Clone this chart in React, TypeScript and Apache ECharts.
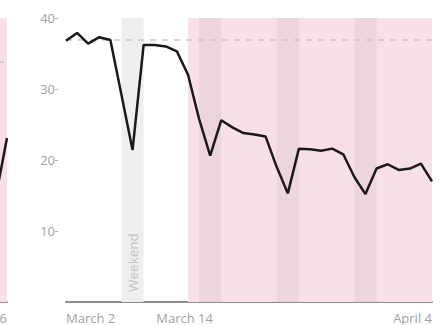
import React, { useEffect, useRef } from 'react';
import * as echarts from 'echarts';

const dates = [
  'Mar 2', 'Mar 3', 'Mar 4', 'Mar 5', 'Mar 6', 'Mar 7', 'Mar 8', 'Mar 9', 'Mar 10', 'Mar 11',
  'Mar 12', 'Mar 13', 'Mar 14', 'Mar 15', 'Mar 16', 'Mar 17', 'Mar 18', 'Mar 19', 'Mar 20', 'Mar 21',
  'Mar 22', 'Mar 23', 'Mar 24', 'Mar 25', 'Mar 26', 'Mar 27', 'Mar 28', 'Mar 29', 'Mar 30', 'Mar 31',
  'Apr 1', 'Apr 2', 'Apr 3', 'Apr 4',
];
const values = [
  36.8, 37.9, 36.4, 37.3, 36.9, 29.2, 21.4, 36.2, 36.2, 36.0,
  35.3, 32.0, 25.8, 20.6, 25.6, 24.6, 23.8, 23.6, 23.3, 19.0,
  15.3, 21.6, 21.5, 21.3, 21.6, 20.8, 17.6, 15.2, 18.8, 19.4,
  18.6, 18.8, 19.5, 17.0,
];
const baseline = 37;
const restrictionPeriod = ['Mar 13', 'Apr 4'];
const grayWeekend = ['Mar 7', 'Mar 9'];
const pinkWeekends = [
  ['Mar 14', 'Mar 16'],
  ['Mar 21', 'Mar 23'],
  ['Mar 28', 'Mar 30'],
];
const tickDates = ['Mar 2', 'Mar 14', 'Apr 4'];
const tickTexts = ['March 2', 'March 14', 'April 4'];
const yTickValues = [10, 20, 30, 40];

// neighbouring (cropped) panel on the left
const prevDates = ['Apr 3', 'Apr 4', 'Apr 5', 'Apr 6'];
const prevValues = [12.0, 10.0, 15.0, 23.1];
const prevBaseline = 33.8;
const prevTickText = 'April 6';

const FONT = '"Open Sans", sans-serif';
const LABEL_COLOR = '#a3a3a3';
const PINK = '#f9dfe6';
const PINK_DARK = '#eed5dc';
const GRAY_BAND = '#efefef';

export default function App() {
  const ref = useRef<HTMLDivElement>(null);
  useEffect(() => {
    document.body.style.margin = '0';
    const chart = echarts.init(ref.current!, null, { renderer: 'svg' });
    const baseLabel = {
      color: LABEL_COLOR,
      fontSize: 13,
      fontFamily: FONT,
      margin: 9,
    };
    const hiddenAxisBits = {
      axisLine: { show: false },
      axisTick: { show: false },
      splitLine: { show: false },
    };
    const option: any = {
      animation: false,
      grid: [
        { left: 66, right: 9, top: 18, bottom: 23, outerBoundsMode: 'none', containLabel: false },
        { left: -26, width: 33, top: 18, bottom: 23, outerBoundsMode: 'none', containLabel: false },
      ],
      xAxis: [
        {
          type: 'category', gridIndex: 0, data: dates, boundaryGap: false, position: 'bottom',
          axisLine: { show: true, lineStyle: { color: '#8e8e8e', width: 2 } },
          axisTick: { show: false }, splitLine: { show: false },
          axisLabel: {
            ...baseLabel, align: 'left',
            interval: (i: number, v: string) => v === tickDates[0],
            formatter: () => tickTexts[0],
          },
        },
        {
          type: 'category', gridIndex: 0, data: dates, boundaryGap: false, position: 'bottom', offset: 0,
          ...hiddenAxisBits,
          axisLabel: {
            ...baseLabel, align: 'right',
            interval: (i: number, v: string) => v === tickDates[2],
            formatter: () => tickTexts[2],
          },
        },
        {
          type: 'category', gridIndex: 0, data: dates, boundaryGap: false, position: 'bottom', offset: 0,
          ...hiddenAxisBits,
          axisLabel: {
            ...baseLabel, align: 'center',
            interval: (i: number, v: string) => v === tickDates[1],
            formatter: () => '{m|' + tickTexts[1] + '}',
            rich: { m: { padding: [0, 29, 0, 0], color: LABEL_COLOR, fontSize: 13, fontFamily: FONT } },
          },
        },
        {
          type: 'category', gridIndex: 1, data: prevDates, boundaryGap: false, position: 'bottom',
          axisLine: { show: true, lineStyle: { color: '#8e8e8e', width: 2 } },
          axisTick: { show: false }, splitLine: { show: false },
          axisLabel: {
            ...baseLabel, align: 'right',
            interval: (i: number) => i === prevDates.length - 1,
            formatter: () => prevTickText,
          },
        },
      ],
      yAxis: [
        {
          type: 'value', gridIndex: 0, min: 0, max: 40, interval: 10, offset: 8,
          axisLine: { show: false },
          axisTick: { show: true, length: 3, customValues: yTickValues, lineStyle: { color: '#b5b5b5' } },
          splitLine: { show: false },
          axisLabel: { color: LABEL_COLOR, fontSize: 13, fontFamily: FONT, margin: 3, customValues: yTickValues },
        },
        {
          type: 'value', gridIndex: 1, min: 0, max: 40, interval: 10, show: false,
        },
      ],
      series: [
        {
          type: 'line', xAxisIndex: 0, yAxisIndex: 0, data: values, symbol: 'none',
          lineStyle: { color: '#1a1a1a', width: 2.5 }, z: 5,
          markArea: {
            silent: true,
            data: [
              [{ xAxis: restrictionPeriod[0], itemStyle: { color: PINK } }, { xAxis: restrictionPeriod[1] }],
              [
                {
                  xAxis: grayWeekend[0], itemStyle: { color: GRAY_BAND },
                  label: {
                    show: true, position: 'insideBottom', rotate: 90, distance: 10,
                    align: 'left', verticalAlign: 'middle', formatter: 'Weekend',
                    color: '#c2c2c2', fontSize: 13.5, fontFamily: FONT,
                  },
                },
                { xAxis: grayWeekend[1] },
              ],
              ...pinkWeekends.map((w) => [
                { xAxis: w[0], itemStyle: { color: PINK_DARK } },
                { xAxis: w[1] },
              ]),
            ],
          },
          markLine: {
            silent: true, symbol: 'none', label: { show: false },
            lineStyle: { color: '#c8c8c8', type: [6, 6], width: 1.5 },
            data: [{ yAxis: baseline }],
          },
        },
        {
          type: 'line', xAxisIndex: 3, yAxisIndex: 1, data: prevValues, symbol: 'none',
          lineStyle: { color: '#1a1a1a', width: 2.5 }, z: 5,
          markArea: {
            silent: true,
            data: [[{ xAxis: prevDates[0], itemStyle: { color: PINK } }, { xAxis: prevDates[prevDates.length - 1] }]],
          },
          markLine: {
            silent: true, symbol: 'none', label: { show: false },
            lineStyle: { color: '#c8c8c8', type: [6, 6], width: 1.5 },
            data: [{ yAxis: prevBaseline }],
          },
        },
      ],
    };
    chart.setOption(option);
    return () => chart.dispose();
  }, []);
  return <div ref={ref} style={{ width: 441, height: 325 }} />;
}
